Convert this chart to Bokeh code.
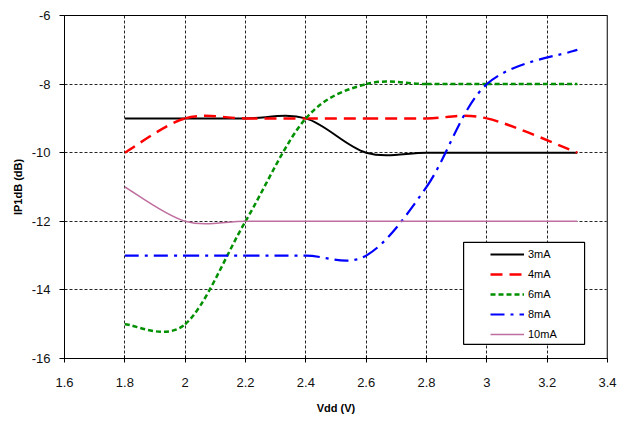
from bokeh.plotting import figure
from bokeh.models import Range1d, FixedTicker, Legend, LegendItem, BoxAnnotation, Span, ColumnDataSource
from bokeh.embed import file_html
from bokeh.resources import INLINE

# ---- data ----
vdd = [1.8, 2.0, 2.2, 2.4, 2.6, 2.8, 3.0, 3.3]
ip_3mA = [-9, -9, -9, -9, -10, -10, -10, -10]
ip_4mA = [-10, -9, -9, -9, -9, -9, -9, -10]
ip_6mA = [-15, -15, -12, -9, -8, -8, -8, -8]
ip_8mA = [-13, -13, -13, -13, -13, -11, -8, -7]
ip_10mA = [-11, -12, -12, -12, -12, -12, -12, -12]
series_names = ["3mA", "4mA", "6mA", "8mA", "10mA"]
x_ticks = [1.6, 1.8, 2.0, 2.2, 2.4, 2.6, 2.8, 3.0, 3.2, 3.4]
x_tick_labels = ["1.6", "1.8", "2", "2.2", "2.4", "2.6", "2.8", "3", "3.2", "3.4"]
y_ticks = [-16, -14, -12, -10, -8, -6]
y_tick_labels = ["-16", "-14", "-12", "-10", "-8", "-6"]

series = [ip_3mA, ip_4mA, ip_6mA, ip_8mA, ip_10mA]
styles = [
    dict(line_color="#000000", line_width=2.0, line_dash="solid"),
    dict(line_color="#FF0000", line_width=2.5, line_dash="12 7"),
    dict(line_color="#009000", line_width=2.5, line_dash="5 3"),
    dict(line_color="#0000FF", line_width=2.2, line_dash="14 6 3 6"),
    dict(line_color="#BF6F9F", line_width=1.5, line_dash="solid"),
]

FONT = "Liberation Sans"


def smooth_source(xs, ys):
    """Bezier segments (Catmull-Rom style, like Excel smoothed lines) through the data points."""
    n = len(xs)
    d = dict(x0=[], y0=[], x1=[], y1=[], cx0=[], cy0=[], cx1=[], cy1=[])
    for i in range(n - 1):
        a = i - 1 if i > 0 else i
        b = i + 2 if i + 2 < n else i + 1
        d["x0"].append(xs[i]); d["y0"].append(ys[i])
        d["x1"].append(xs[i + 1]); d["y1"].append(ys[i + 1])
        d["cx0"].append(xs[i] + (xs[i + 1] - xs[a]) / 6.0)
        d["cy0"].append(ys[i] + (ys[i + 1] - ys[a]) / 6.0)
        d["cx1"].append(xs[i + 1] - (xs[b] - xs[i]) / 6.0)
        d["cy1"].append(ys[i + 1] - (ys[b] - ys[i]) / 6.0)
    return ColumnDataSource(d)


p = figure(width=620, height=420,
           x_range=Range1d(1.6, 3.4), y_range=Range1d(-16, -6),
           output_backend="svg", toolbar_location=None,
           min_border_left=64, min_border_right=13, min_border_top=15, min_border_bottom=62,
           background_fill_color="white", border_fill_color="white")

p.outline_line_color = "#000000"
p.outline_line_width = 1

# grid
p.xaxis.ticker = FixedTicker(ticks=x_ticks)
p.yaxis.ticker = FixedTicker(ticks=y_ticks)
p.xgrid.ticker = FixedTicker(ticks=x_ticks)
p.ygrid.ticker = FixedTicker(ticks=y_ticks)
for g in (p.xgrid, p.ygrid):
    g.grid_line_color = "#000000"
    g.grid_line_dash = "3 2"
    g.grid_line_width = 1
    g.grid_line_alpha = 0.85

# axes
p.xaxis.major_label_overrides = {t: l for t, l in zip(x_ticks, x_tick_labels)}
p.yaxis.major_label_overrides = {t: l for t, l in zip(y_ticks, y_tick_labels)}
for ax in (p.xaxis, p.yaxis):
    ax.axis_line_color = "#000000"
    ax.axis_line_width = 1
    ax.major_tick_line_color = "#000000"
    ax.minor_tick_line_color = None
    ax.major_label_text_font = FONT
    ax.major_label_text_font_size = "13px"
    ax.major_label_text_color = "#111111"
    ax.axis_label_text_font = FONT
    ax.axis_label_text_font_size = "11px"
    ax.axis_label_text_font_style = "bold"
    ax.axis_label_text_color = "#000000"
p.xaxis.axis_label = "Vdd (V)"
p.yaxis.axis_label = "IP1dB (dB)"
p.xaxis.major_tick_in = 3
p.xaxis.major_tick_out = 4
p.xaxis.major_label_standoff = 15
p.xaxis.axis_label_standoff = 12
p.yaxis.major_tick_in = 0
p.yaxis.major_tick_out = 5
p.yaxis.major_label_standoff = 9
p.yaxis.axis_label_standoff = 5

# right frame edge (grey)
p.add_layout(Span(location=3.4, dimension="height", line_color="#7F7F7F", line_width=2))

# series
items = []
for name, ys, st in zip(series_names, series, styles):
    src = smooth_source(vdd, ys)
    p.bezier(x0="x0", y0="y0", x1="x1", y1="y1", cx0="cx0", cy0="cy0", cx1="cx1", cy1="cy1",
             source=src, **st)
    key = p.line(x=vdd[:1], y=ys[:1], **st)
    items.append(LegendItem(label=name, renderers=[key]))

# legend box
p.add_layout(BoxAnnotation(left=2.923, right=3.324, top=-12.617, bottom=-15.587,
                           fill_color="white", fill_alpha=1.0,
                           line_color="#000000", line_alpha=1.0, line_width=1.2,
                           level="annotation"))
legend = Legend(items=items, location=(426, 16), padding=0, margin=0, spacing=4,
                glyph_width=34, glyph_height=16, label_height=16, label_standoff=4,
                label_text_font=FONT, label_text_font_size="11px", label_text_color="#000000",
                border_line_alpha=0, background_fill_alpha=0)
p.add_layout(legend, "center")

open("out.html", "w").write(file_html(p, INLINE))
